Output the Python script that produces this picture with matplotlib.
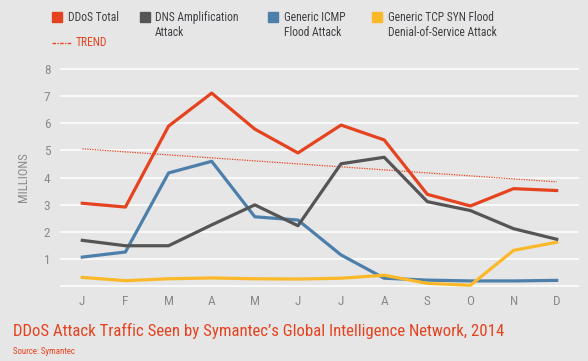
import matplotlib
matplotlib.use("Agg")
import matplotlib.pyplot as plt
from matplotlib.font_manager import findfont, FontProperties
import matplotlib.patches as mpatches
import matplotlib.lines as mlines

months = ["J", "F", "M", "A", "M", "J", "J", "A", "S", "O", "N", "D"]
ddos_total = [3.05, 2.91, 5.90, 7.12, 5.79, 4.91, 5.94, 5.39, 3.38, 2.95, 3.59, 3.52]
dns_amp = [1.68, 1.48, 1.48, 2.25, 2.99, 2.22, 4.51, 4.75, 3.11, 2.78, 2.11, 1.72]
icmp_flood = [1.06, 1.25, 4.17, 4.60, 2.55, 2.43, 1.14, 0.28, 0.21, 0.18, 0.18, 0.20]
tcp_syn = [0.31, 0.19, 0.26, 0.29, 0.26, 0.25, 0.28, 0.39, 0.09, 0.02, 1.31, 1.61]
trend_ends = [5.06, 3.84]
yticks = [1, 2, 3, 4, 5, 6, 7, 8]

RED = "#e5431f"
GRAY = "#555555"
BLUE = "#4d7fab"
YELLOW = "#fbb829"
BG = "#e6e6e6"
TXT = "#8a8a8a"

candidates = ["Roboto Condensed", "Fira Sans Condensed", "Encode Sans Condensed", "Asap Condensed",
              "PT Sans Narrow", "Archivo Narrow", "Liberation Sans Narrow", "Roboto"]
chosen = "DejaVu Sans"
for c in candidates:
    try:
        findfont(FontProperties(family=c), fallback_to_default=False)
        chosen = c
        break
    except Exception:
        pass
plt.rcParams["font.family"] = [chosen, "DejaVu Sans"]

W, H = 588, 361
fig = plt.figure(figsize=(W / 100, H / 100), dpi=100, facecolor=BG)
renderer = fig.canvas.get_renderer()


def fit_size(s, target_px, base=10.0):
    t = fig.text(0, 0, s, fontsize=base)
    w = t.get_window_extent(renderer=renderer).width
    t.remove()
    return base * target_px / w


x0, x1 = 60, 579
y_top, y_bot = 66, 289
ax = fig.add_axes([x0 / W, 1 - y_bot / H, (x1 - x0) / W, (y_bot - y_top) / H])
ax.set_facecolor(BG)
px_per_unit = (285.8 - 69.3) / 8
ax.set_ylim(-(y_bot - 285.8) / px_per_unit, 8 + (69.3 - y_top) / px_per_unit)
mx = (556.7 - 82.3) / 11
ax.set_xlim(-(82.3 - x0) / mx, 11 + (x1 - 556.7) / mx)

for v in [0] + yticks:
    ax.axhline(v, color="white", lw=1.1, zorder=1)

xs = list(range(len(months)))
ax.plot([xs[0], xs[-1]], trend_ends, color=RED, lw=0.9, ls=(0, (1, 1)), zorder=2)
ax.plot(xs, icmp_flood, color=BLUE, lw=2.3, zorder=3)
ax.plot(xs, tcp_syn, color=YELLOW, lw=2.3, zorder=4)
ax.plot(xs, dns_amp, color=GRAY, lw=2.3, zorder=5)
ax.plot(xs, ddos_total, color=RED, lw=2.3, zorder=6)

for s in ax.spines.values():
    s.set_visible(False)
ax.set_yticks(yticks)
ax.set_yticklabels([str(v) for v in yticks])
ax.set_xticks(xs)
ax.set_xticklabels(months)
ax.tick_params(length=0, colors=TXT, labelsize=9.5, pad=4)
ax.tick_params(axis="y", pad=7)
ax.set_ylabel("MILLIONS", color=TXT, fontsize=fit_size("MILLIONS", 50), labelpad=10)


def sq(x, y, c):
    fig.patches.append(mpatches.Rectangle((x / W, 1 - (y + 10) / H), 10 / W, 10 / H,
                                          transform=fig.transFigure, color=c))


tc = "#3f3f45"
fs = fit_size("Generic TCP SYN Flood", 106)
sq(52, 12, RED)
fig.text(68 / W, 1 - 17.5 / H, "DDoS Total", color=tc, fontsize=fs, va="center")
sq(140, 12, GRAY)
fig.text(155 / W, 1 - 17.5 / H, "DNS Amplification", color=tc, fontsize=fs, va="center")
fig.text(155 / W, 1 - 32.5 / H, "Attack", color=tc, fontsize=fs, va="center")
sq(268, 12, BLUE)
fig.text(284 / W, 1 - 17.5 / H, "Generic ICMP", color=tc, fontsize=fs, va="center")
fig.text(284 / W, 1 - 32.5 / H, "Flood Attack", color=tc, fontsize=fs, va="center")
sq(372, 12, YELLOW)
fig.text(388 / W, 1 - 17.5 / H, "Generic TCP SYN Flood", color=tc, fontsize=fs, va="center")
fig.text(388 / W, 1 - 32.5 / H, "Denial-of-Service Attack", color=tc, fontsize=fs, va="center")
fig.lines.append(mlines.Line2D([52 / W, 72 / W], [1 - 42.5 / H, 1 - 42.5 / H], transform=fig.transFigure,
                               color=RED, lw=1.0, ls=(0, (2.5, 1, 1, 1))))
fig.text(76 / W, 1 - 42.5 / H, "TREND", color=RED, fontsize=fs, va="center")

title = "DDoS Attack Traffic Seen by Symantec\u2019s Global Intelligence Network, 2014"
tfs = fit_size(title, 490)
fig.text(13 / W, 1 - 331 / H, title, color=RED, fontsize=tfs, va="center")
fig.text(13 / W, 1 - 352 / H, "Source: Symantec", color=RED, fontsize=fit_size("Source: Symantec", 62), va="center")

fig.savefig("out.png", dpi=100, facecolor=BG)
